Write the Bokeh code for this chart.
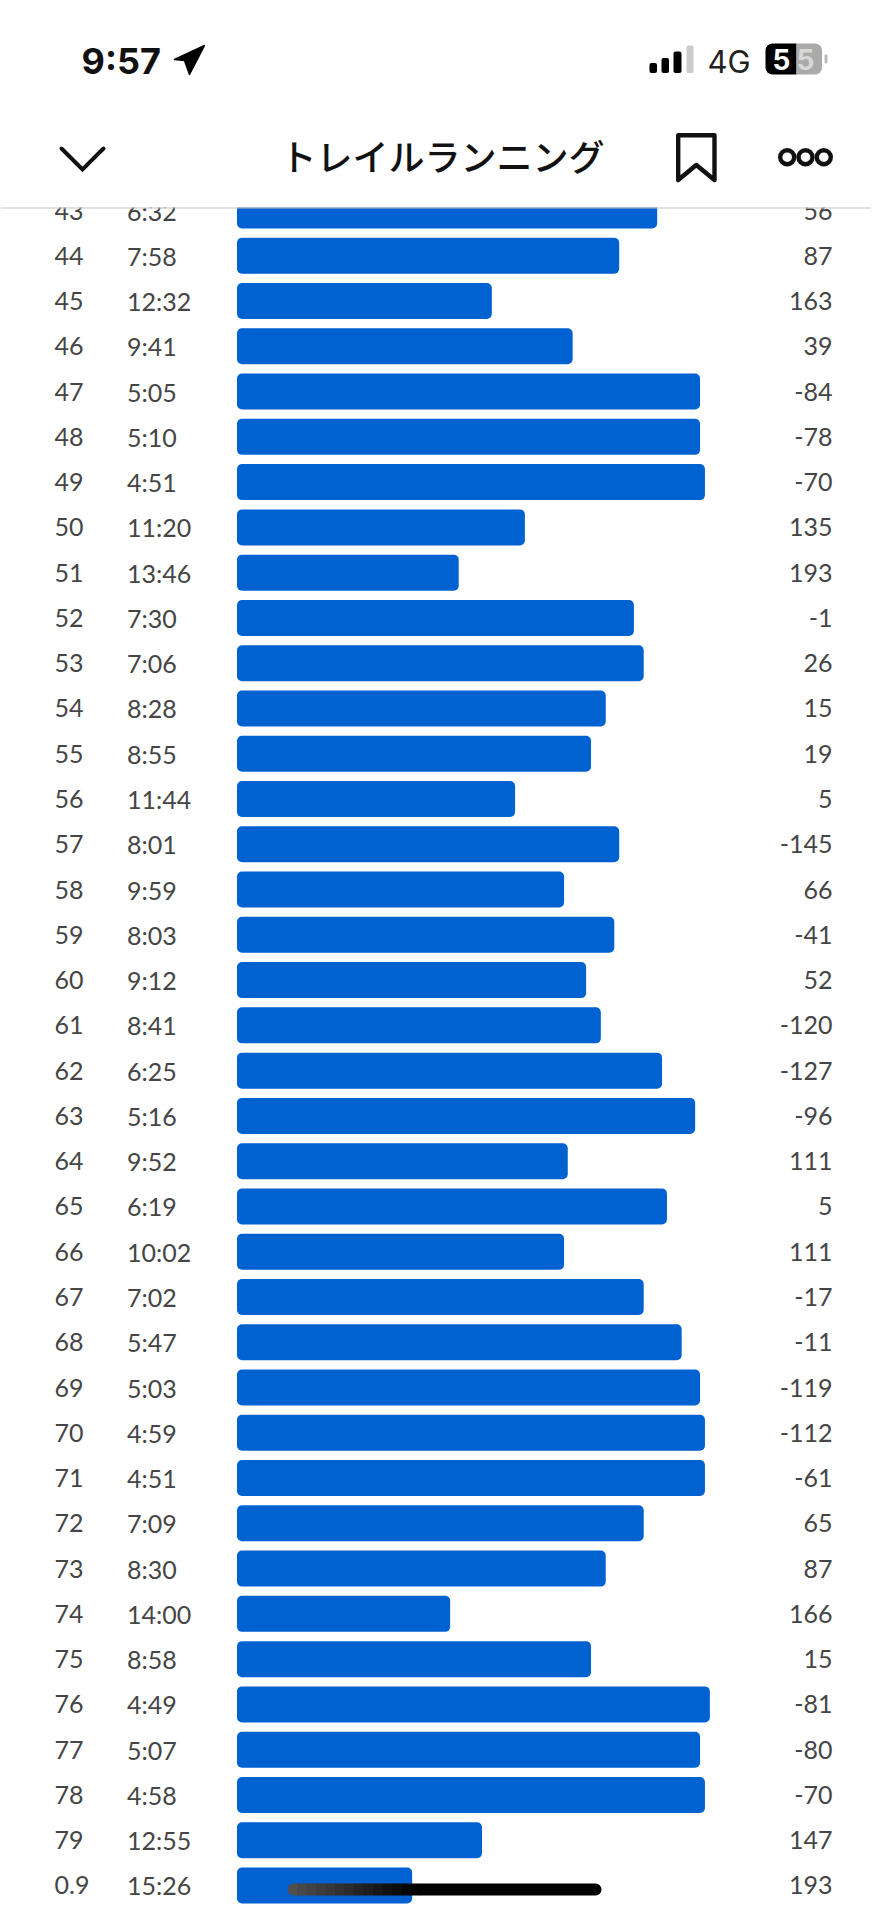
from bokeh.plotting import figure
from bokeh.models import Range1d
from bokeh.core.properties import value
from bokeh.embed import file_html
from bokeh.resources import INLINE

# Table data
rows = ["43","44","45","46","47","48","49","50","51","52","53","54","55","56","57","58","59","60","61",
        "62","63","64","65","66","67","68","69","70","71","72","73","74","75","76","77","78","79","0.9"]
paces = ["6:32","7:58","12:32","9:41","5:05","5:10","4:51","11:20","13:46","7:30","7:06","8:28","8:55",
         "11:44","8:01","9:59","8:03","9:12","8:41","6:25","5:16","9:52","6:19","10:02","7:02","5:47",
         "5:03","4:59","4:51","7:09","8:30","14:00","8:58","4:49","5:07","4:58","12:55","15:26"]
elevation = ["56","87","163","39","-84","-78","-70","135","193","-1","26","15","19","5","-145","66","-41","52",
             "-120","-127","-96","111","5","111","-17","-11","-119","-112","-61","65","87","166","15","-81",
             "-80","-70","147","193"]
# Bar length, in the reference's arbitrary speed units
bar_len = [343,312,208,274,378,378,382,235,181,324,332,301,289,227,312,267,308,285,297,347,374,270,351,267,
           332,363,378,382,382,332,301,174,289,386,378,382,200,143]

BLUE = "#0061d1"
INK = "#454545"
W, H = 871, 1904          # 8px page margin on each side of the 887x1920 window
ROW_PX = 45.27            # rows tightened a little so the last bar ends inside the window
BAR_L = 236.5
UNIT = 1.225
ROW0_Y = 210.0
BAR_HALF = 18 / ROW_PX

p = figure(width=W, height=H, output_backend="svg", toolbar_location=None,
           x_range=Range1d(-BAR_L / UNIT, (W - BAR_L) / UNIT),
           y_range=Range1d((H - ROW0_Y) / ROW_PX, -ROW0_Y / ROW_PX),
           min_border=0, min_border_left=0, min_border_right=0, min_border_top=0, min_border_bottom=0,
           x_axis_location=None, y_axis_location=None, outline_line_color=None,
           background_fill_color="white", border_fill_color="white")
p.grid.visible = False
p.extra_x_ranges["page"] = Range1d(0, W)
p.extra_y_ranges["page"] = Range1d(H, 0)

idx = list(range(len(rows)))
p.quad(left=0, right=bar_len, top=[i - BAR_HALF for i in idx], bottom=[i + BAR_HALF for i in idx],
       fill_color=BLUE, line_color=None, border_radius=5)

FONT = value("Lato")
p.text(x=[54] * len(rows), y=idx, text=rows, x_range_name="page", text_font=FONT, text_font_size="25px",
       text_color=INK, text_align="left", text_baseline="middle")
p.text(x=[126.5] * len(rows), y=idx, text=paces, x_range_name="page", text_font=FONT, text_font_size="25px",
       text_color=INK, text_align="left", text_baseline="middle")
p.text(x=[832] * len(rows), y=idx, text=elevation, x_range_name="page", text_font=FONT, text_font_size="25px",
       text_color=INK, text_align="right", text_baseline="middle")

# Header mask and rule
P = dict(x_range_name="page", y_range_name="page")
p.quad(left=[0], right=[W], top=[0], bottom=[207], fill_color="white", line_color=None, **P)
p.line(x=[0, W], y=[207.5, 207.5], line_color="#c4c4c4", line_width=1.2, **P)

# Status bar
SANS = value("Inter")
p.text(x=[81], y=[60], text=["9:57"], text_font=SANS, text_font_size="36px", text_font_style="bold",
       text_color="#111111", text_baseline="middle", **P)
p.patch(x=[174, 204, 189, 184], y=[59, 45, 74, 60], fill_color="#000000", line_color="#000000",
        line_width=1.5, line_join="round", **P)
p.quad(left=[649, 661, 673], right=[656.5, 668.5, 681], top=[62.5, 57.5, 51], bottom=[72.5, 72.5, 72.5],
       fill_color="#000000", line_color=None, border_radius=2, **P)
p.quad(left=[686], right=[693], top=[45], bottom=[72.5], fill_color="#cccccc", line_color=None, border_radius=2, **P)
p.text(x=[707], y=[60.5], text=["4G"], text_font=SANS, text_font_size="31px", text_color="#222222",
       text_baseline="middle", **P)
p.quad(left=[765], right=[796], top=[43], bottom=[74], fill_color="#000000", line_color=None,
       border_radius={"top_left": 7, "bottom_left": 7, "top_right": 0, "bottom_right": 0}, **P)
p.quad(left=[796], right=[821.5], top=[43], bottom=[74], fill_color="#aaaaaa", line_color=None,
       border_radius={"top_left": 0, "bottom_left": 0, "top_right": 7, "bottom_right": 7}, **P)
p.text(x=[781, 805], y=[59, 59], text=["5", "5"], text_font=SANS, text_font_size="28px", text_font_style="bold",
       text_color=["#ffffff", "#d8d8d8"], text_align="center", text_baseline="middle", **P)
p.quad(left=[824], right=[827], top=[54], bottom=[63], fill_color="#bbbbbb", line_color=None, border_radius=1, **P)

# Navigation bar
p.line(x=[61, 82, 103], y=[148, 169, 148], line_color="#111111", line_width=4, line_join="miter", line_cap="round", **P)
p.text(x=[442], y=[154], text=["トレイルランニング"], text_font=value("Noto Sans CJK JP Medium"), text_font_size="36px",
       text_color="#111111", text_align="center", text_baseline="middle", **P)
p.patch(x=[677.7, 714, 714, 695.8, 677.7], y=[134.7, 134.7, 179.5, 164.5, 179.5], fill_color=None, line_color="#111111",
        line_width=4.4, line_join="round", **P)
p.circle(x=[786.7, 805, 823.3], y=[156.7, 156.7, 156.7], radius=7, fill_color=None, line_color="#111111", line_width=4.4, **P)

# Home indicator, fading over the blue bar; kept at its place across the last bar
HOME_T, HOME_B, HOME_L, HOME_R = 1883, 1895, 287, 601
FADE_END = 420
n = 14
for i in range(n):
    a = HOME_L + (FADE_END - HOME_L) * i / n
    b = HOME_L + (FADE_END - HOME_L) * (i + 1) / n
    g = int(80 * (1 - i / (n - 1)))
    radius = {"top_left": 6, "bottom_left": 6, "top_right": 0, "bottom_right": 0} if i == 0 else 0
    p.quad(left=[a], right=[b + 0.5], top=[HOME_T], bottom=[HOME_B], fill_color=f"#{g:02x}{g:02x}{g:02x}",
           line_color=None, border_radius=radius, **P)
p.quad(left=[FADE_END], right=[HOME_R], top=[HOME_T], bottom=[HOME_B], fill_color="#000000", line_color=None,
       border_radius={"top_left": 0, "bottom_left": 0, "top_right": 6, "bottom_right": 6}, **P)

open("out.html", "w").write(file_html(p, INLINE))
